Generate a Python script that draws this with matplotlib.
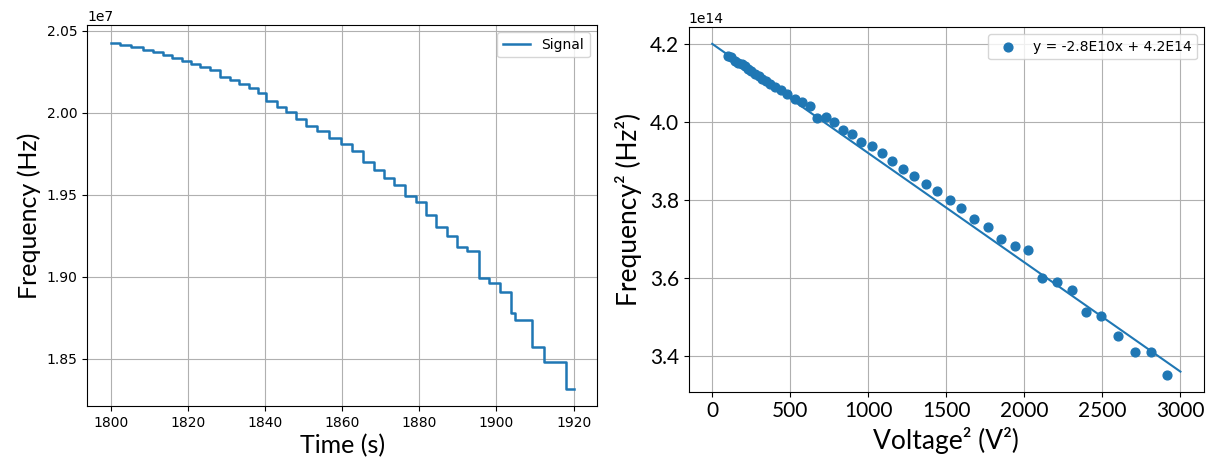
import matplotlib
matplotlib.use('Agg')
import matplotlib.pyplot as plt
import numpy as np

# left panel: stepped frequency signal (start time of each level, value in 1e7 Hz)
time_s = [1800.0, 1802.4, 1805.4, 1808.4, 1811.0, 1813.6, 1815.8, 1818.4, 1820.9, 1823.2,
          1825.7, 1828.3, 1830.9, 1833.4, 1835.8, 1838.1, 1840.3, 1843.0, 1845.5, 1848.1,
          1850.7, 1853.5, 1856.6, 1859.8, 1862.6, 1865.5, 1868.2, 1870.9, 1873.5, 1876.3,
          1879.1, 1881.7, 1884.4, 1887.2, 1889.9, 1892.4, 1895.5, 1898.1, 1901.0, 1903.7,
          1904.7, 1909.3, 1912.3, 1918.0, 1920.0]
freq_1e7 = [2.0428, 2.0416, 2.0402, 2.0385, 2.0369, 2.0351, 2.0332, 2.0316, 2.0299, 2.0279,
            2.0258, 2.0217, 2.0197, 2.0176, 2.0148, 2.0118, 2.0072, 2.0038, 2.0002, 1.9960,
            1.9922, 1.9889, 1.9843, 1.9809, 1.9767, 1.9702, 1.9650, 1.9602, 1.9557, 1.9490,
            1.9455, 1.9373, 1.9305, 1.9248, 1.9179, 1.9155, 1.8989, 1.8958, 1.8908, 1.8780,
            1.8738, 1.8571, 1.8480, 1.8316, 1.8316]

# right panel: frequency^2 (1e14 Hz^2) against voltage^2 (V^2)
volt_sq = [100, 120, 145, 168, 190, 209, 230, 251, 272, 297, 320, 345, 372, 403, 440, 479,
           530, 577, 624, 671, 726, 783, 841, 894, 955, 1021, 1085, 1151, 1220, 1295, 1369,
           1440, 1521, 1596, 1679, 1765, 1850, 1937, 2023, 2115, 2206, 2302, 2398, 2494,
           2599, 2706, 2810, 2913]
freq_sq_1e14 = [4.168, 4.166, 4.157, 4.151, 4.149, 4.143, 4.136, 4.130, 4.123, 4.117, 4.110,
                4.104, 4.097, 4.090, 4.081, 4.072, 4.059, 4.050, 4.040, 4.011, 4.012, 4.000,
                3.979, 3.968, 3.949, 3.939, 3.920, 3.900, 3.880, 3.862, 3.842, 3.822, 3.800,
                3.780, 3.751, 3.731, 3.701, 3.683, 3.672, 3.600, 3.589, 3.570, 3.512, 3.502,
                3.452, 3.411, 3.411, 3.351]
fit_slope = -2.8e10
fit_intercept = 4.2e14
fit_x = [0, 3000]
fit_label = 'y = -2.8E10x + 4.2E14'

label_font = 'Lato'

fig = plt.figure(figsize=(12.11, 4.61), dpi=100)

# ---- left plot ----
ax1 = fig.add_axes([0.0722, 0.1193, 0.4206, 0.8258])
ax1.plot(time_s, np.array(freq_1e7) * 1e7, drawstyle='steps-post', color='#1f77b4',
         lw=1.8, label='Signal')
ax1.set_xticks([1800, 1820, 1840, 1860, 1880, 1900, 1920])
ax1.grid(True, color='#b0b0b0', lw=0.8)
ax1.tick_params(labelsize=10)
ax1.legend(loc='upper right', fontsize=10)
ax1.set_xlabel('Time (s)', fontsize=18, fontfamily=label_font, labelpad=3)
ax1.set_ylabel('Frequency (Hz)', fontsize=18, fontfamily=label_font)

# ---- right plot ----
ax2 = fig.add_axes([0.5688, 0.1503, 0.4253, 0.7905])
fx = np.array(fit_x)
ax2.plot(fx, fit_slope * fx + fit_intercept, color='#1f77b4', lw=1.5)
ax2.scatter(volt_sq, np.array(freq_sq_1e14) * 1e14, color='#1f77b4', s=40,
            label=fit_label, zorder=3)
ax2.set_xticks([0, 500, 1000, 1500, 2000, 2500, 3000])
ax2.set_yticks([3.4e14, 3.6e14, 3.8e14, 4.0e14, 4.2e14])
ax2.grid(True, color='#b0b0b0', lw=0.8)
ax2.tick_params(labelsize=15)
plt.setp(ax2.get_xticklabels() + ax2.get_yticklabels(), fontfamily=label_font)
ax2.yaxis.get_offset_text().set_fontsize(10)
ax2.legend(loc='upper right', fontsize=10)
ax2.set_xlabel('Voltage² (V²)', fontsize=19, fontfamily=label_font)
ax2.set_ylabel('Frequency² (Hz²)', fontsize=19, fontfamily=label_font, labelpad=6)

fig.savefig('out.png', dpi=100)
